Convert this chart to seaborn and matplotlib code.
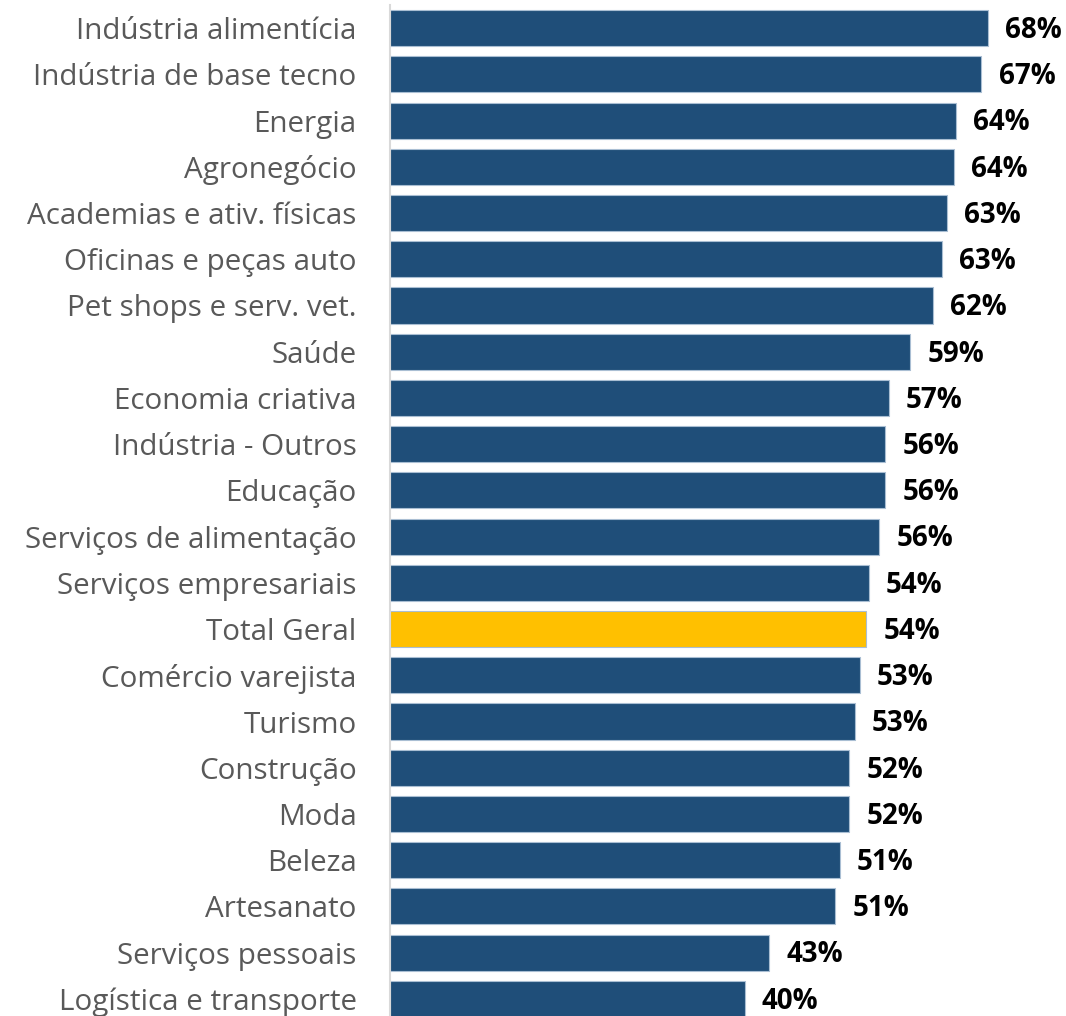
import matplotlib
matplotlib.use("Agg")
import matplotlib.pyplot as plt
import seaborn as sns
import pandas as pd

categories = ["Indústria alimentícia", "Indústria de base tecno", "Energia", "Agronegócio",
              "Academias e ativ. físicas", "Oficinas e peças auto", "Pet shops e serv. vet.",
              "Saúde", "Economia criativa", "Indústria - Outros", "Educação",
              "Serviços de alimentação", "Serviços empresariais", "Total Geral",
              "Comércio varejista", "Turismo", "Construção", "Moda", "Beleza",
              "Artesanato", "Serviços pessoais", "Logística e transporte"]
values = [67.95, 67.2, 64.3, 64.1, 63.3, 62.7, 61.7, 59.1, 56.7, 56.25, 56.25,
          55.6, 54.4, 54.1, 53.4, 52.8, 52.2, 52.2, 51.1, 50.6, 43.1, 40.3]
groups = ["Total" if c == "Total Geral" else "Setor" for c in categories]

df = pd.DataFrame({"setor": categories, "valor": values, "grupo": groups})

sns.set_style("white")
plt.rcParams["font.family"] = ["Open Sans", "DejaVu Sans"]

fig = plt.figure(figsize=(10.66, 10.16), dpi=100)
ax = fig.add_axes([390 / 1066, -6 / 1016, 676 / 1066, 1017 / 1016])

sns.barplot(data=df, x="valor", y="setor", hue="grupo",
            palette={"Setor": "#1f4e79", "Total": "#ffc000"},
            saturation=1, dodge=False, width=0.78,
            edgecolor="#a9bed3", linewidth=0.8,
            legend=False, ax=ax)

for i, v in enumerate(values):
    ax.text(v + 1.95, i + 0.05, f"{v:.0f}%", va="center", ha="left",
            fontsize=20, fontweight="bold", color="black")

ax.set_xlim(0, 676 / 8.8)
ax.set_ylim(len(categories) - 0.5, -0.5)
ax.set_xlabel("")
ax.set_ylabel("")
ax.set_xticks([])
ax.tick_params(axis="y", length=0, pad=24, labelsize=21.3, labelcolor="#595959")
for s in ["top", "right", "bottom"]:
    ax.spines[s].set_visible(False)
ax.spines["left"].set_color("#d9d9d9")
ax.spines["left"].set_linewidth(1.5)

fig.savefig("out.png", dpi=100)
